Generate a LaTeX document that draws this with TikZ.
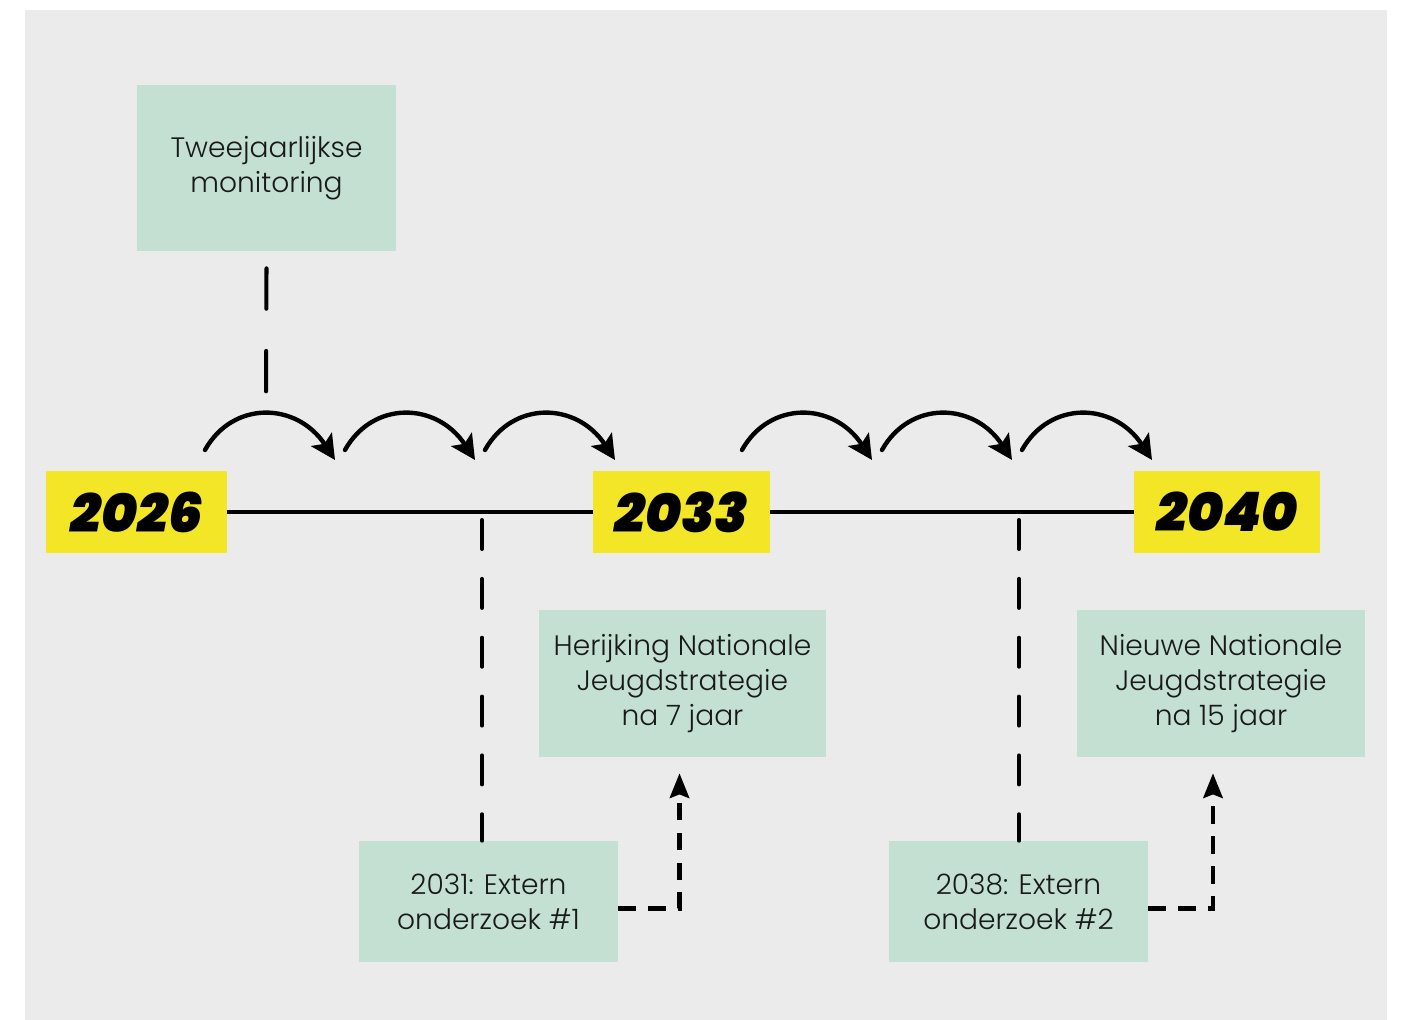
\documentclass[tikz,border=0pt]{standalone}
\usepackage{fontspec}
\setmainfont{Poppins Light}
\newfontfamily\yearfont{Poppins Black Italic}
\definecolor{panelgrey}{RGB}{235,235,235}
\definecolor{mintgreen}{RGB}{195,224,210}
\definecolor{yearyellow}{RGB}{243,230,38}
\usetikzlibrary{arrows.meta,positioning}

\begin{document}
\begin{tikzpicture}[x=0.02cm, y=-0.02cm,
    infobox/.style={fill=mintgreen, align=center, inner sep=0pt, text=black!90,
        font=\fontsize{16}{20}\selectfont},
    yearbox/.style={fill=yearyellow, inner sep=0pt, minimum height=1.64cm,
        font=\yearfont\fontsize{31}{31}\selectfont},
    timeline/.style={line width=2.3pt},
    hop/.style={line width=2.5pt, line cap=round, -{Stealth[length=14pt,width=14pt,inset=3pt]}},
    longdash/.style={line width=2.3pt, line cap=round, dash pattern=on 23pt off 24pt},
    tickdash/.style={line width=2.3pt, line cap=round, dash pattern=on 16.5pt off 17pt},
    elbow/.style={line width=2.5pt, dash pattern=on 10pt off 7pt, -{Stealth[length=14pt,width=11pt,inset=2pt]}}]
    \useasboundingbox (0,0) rectangle (1401,1020);
    \fill[panelgrey] (25,10) rectangle (1387,1020);

    % years on the timeline
    \node[yearbox, minimum width=3.62cm] (y26) at (136.5,512) {2026};
    \node[yearbox, minimum width=3.54cm] (y33) at (681.5,512) {2033};
    \node[yearbox, minimum width=3.72cm] (y40) at (1227,512) {2040};
    \draw[timeline] (y26) -- (y33);
    \draw[timeline] (y33) -- (y40);

    % boxes
    \node[infobox, minimum width=5.18cm, minimum height=3.32cm] (mon) at (266.5,168) {Tweejaarlijkse\\monitoring};
    \node[infobox, minimum width=5.74cm, minimum height=2.94cm] (her) at (682.5,683.5) {Herijking Nationale\\Jeugdstrategie\\na 7 jaar};
    \node[infobox, minimum width=5.76cm, minimum height=2.94cm] (nieuw) at (1221,683.5) {Nieuwe Nationale\\Jeugdstrategie\\na 15 jaar};
    \node[infobox, minimum width=5.18cm, minimum height=2.42cm] (ext1) at (488.5,901.5) {2031: Extern\\onderzoek \#1};
    \node[infobox, minimum width=5.18cm, minimum height=2.42cm] (ext2) at (1018.5,901.5) {2038: Extern\\onderzoek \#2};

    % monitoring every two years
    \coordinate (monend) at (266,397);
    \draw[longdash] ([yshift=-17*0.02cm]mon.south) -- (monend);
    \foreach \x in {205,345,485,742,882,1022}
        \draw[hop] (\x,450) .. controls (\x+28,400) and (\x+92,402) .. (\x+130,460);

    % external research
    \coordinate (t1) at (482,520);
    \coordinate (t2) at (1019,520);
    \draw[tickdash] (t1) -- (t1 |- ext1.north);
    \draw[tickdash] (t2) -- (t2 |- ext2.north);
    \draw[elbow] ([yshift=-7*0.02cm]ext1.east) -| ([shift={(-3,16)}]her.south);
    \draw[elbow] ([yshift=-7*0.02cm]ext2.east) -| ([shift={(-8,16)}]nieuw.south);
\end{tikzpicture}
\end{document}
